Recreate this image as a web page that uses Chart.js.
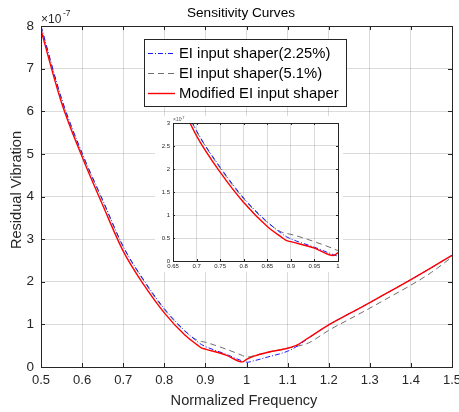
<!DOCTYPE html>
<html>
<head>
<meta charset="utf-8">
<script src="https://cdn.jsdelivr.net/npm/chart.js@4/dist/chart.umd.min.js"></script>
<style>
  html, body { margin: 0; padding: 0; background: #fff; }
  #wrap { position: relative; width: 459px; height: 412px; }
  #main { position: absolute; left: 0; top: 0; }
  #insetBox { position: absolute; left: 155px; top: 116px; width: 188px; height: 156px; background: #fff; }
</style>
</head>
<body>
<div id="wrap">
  <canvas id="main" width="459" height="412"></canvas>
  <div id="insetBox"><canvas id="inset" width="188" height="156"></canvas></div>
</div>
<script>
// ---- data (values in units of 1e-7) ----
const frequency = [0.5, 0.55, 0.6, 0.65, 0.7, 0.75, 0.8, 0.85, 0.88, 0.89, 0.9, 0.95, 0.99, 1.0, 1.02, 1.05, 1.1, 1.12, 1.15, 1.2, 1.25, 1.3, 1.35, 1.4, 1.45, 1.5];
const eiShaper225 = [8.0, 6.3, 5.02, 3.92, 2.83, 2.04, 1.37, 0.85, 0.6, 0.53, 0.48, 0.3, 0.14, 0.11, 0.15, 0.23, 0.37, 0.47, 0.67, 0.99, 1.25, 1.51, 1.78, 2.05, 2.33, 2.62];
const eiShaper51  = [8.0, 6.28, 5.0, 3.9, 2.82, 2.02, 1.35, 0.84, 0.63, 0.6, 0.58, 0.42, 0.27, 0.23, 0.27, 0.34, 0.44, 0.48, 0.56, 0.86, 1.12, 1.38, 1.65, 1.92, 2.22, 2.58];
const modifiedEI  = [7.9, 6.2, 4.93, 3.8, 2.72, 1.93, 1.27, 0.75, 0.52, 0.45, 0.42, 0.28, 0.12, 0.18, 0.26, 0.34, 0.44, 0.5, 0.68, 0.99, 1.25, 1.51, 1.78, 2.05, 2.33, 2.62];
const seriesLabels = ['EI input shaper(2.25%)', 'EI input shaper(5.1%)', 'Modified EI input shaper'];

const mainXTicks = [0.5, 0.6, 0.7, 0.8, 0.9, 1.0, 1.1, 1.2, 1.3, 1.4, 1.5];
const mainYTicks = [0, 1, 2, 3, 4, 5, 6, 7, 8];
const insetXTicks = [0.65, 0.7, 0.75, 0.8, 0.85, 0.9, 0.95, 1.0];
const insetYTicks = [0, 0.5, 1, 1.5, 2, 2.5, 3];

const FONT = "'Liberation Sans', Arial, Helvetica, sans-serif";
const AX = '#262626';
const GRID = 'rgba(0,0,0,0.14)';
const fmt = v => String(+v.toFixed(2));
const pts = arr => frequency.map((f, i) => ({ x: f, y: arr[i] }));

function makeDatasets() {
  return [
    { label: seriesLabels[0], data: pts(eiShaper225), borderColor: '#1a1aff', borderWidth: 1, borderDash: [5, 2, 1, 2], order: 1 },
    { label: seriesLabels[1], data: pts(eiShaper51), borderColor: '#6e6e6e', borderWidth: 1, borderDash: [6, 4], order: 2 },
    { label: seriesLabels[2], data: pts(modifiedEI), borderColor: '#ff0000', borderWidth: 1.4, order: 0 }
  ].map(d => Object.assign(d, { pointRadius: 0, fill: false, cubicInterpolationMode: 'monotone' }));
}

// inward ticks + full box
function boxTicks(len, lw) {
  return {
    id: 'boxTicks',
    afterDatasetsDraw(chart) {
      const { ctx, chartArea: a, scales: { x, y } } = chart;
      ctx.save();
      ctx.strokeStyle = AX; ctx.lineWidth = lw;
      ctx.beginPath();
      x.ticks.forEach(t => {
        const px = Math.round(x.getPixelForValue(t.value)) + 0.5;
        ctx.moveTo(px, a.bottom); ctx.lineTo(px, a.bottom - len);
        ctx.moveTo(px, a.top); ctx.lineTo(px, a.top + len);
      });
      y.ticks.forEach(t => {
        const py = Math.round(y.getPixelForValue(t.value)) + 0.5;
        ctx.moveTo(a.left, py); ctx.lineTo(a.left + len, py);
        ctx.moveTo(a.right, py); ctx.lineTo(a.right - len, py);
      });
      ctx.stroke();
      ctx.strokeRect(Math.round(a.left) + 0.5, Math.round(a.top) + 0.5, Math.round(a.right - a.left), Math.round(a.bottom - a.top));
      ctx.restore();
    }
  };
}

function scaleOpts(ticksArr, min, max, fontSize, pad, fitFn) {
  return {
    type: 'linear', min, max,
    afterBuildTicks: s => { s.ticks = ticksArr.map(v => ({ value: v })); },
    afterFit: s => { fitFn(s); s.paddingLeft = 0; s.paddingRight = 0; s.paddingTop = 0; s.paddingBottom = 0; },
    grid: { color: GRID, lineWidth: 1, drawTicks: false },
    border: { display: false },
    ticks: { callback: v => fmt(v), color: AX, padding: pad, font: { family: FONT, size: fontSize }, maxRotation: 0, autoSkip: false }
  };
}

// ---- main chart ----
const mainText = {
  id: 'mainText',
  afterDraw(chart) {
    const { ctx } = chart;
    ctx.save();
    ctx.fillStyle = '#000';
    ctx.textAlign = 'center'; ctx.textBaseline = 'middle';
    ctx.font = `13.6px ${FONT}`;
    ctx.fillText('Sensitivity Curves', 241, 13);
    ctx.fillStyle = AX;
    ctx.font = `14.6px ${FONT}`;
    ctx.fillText('Normalized Frequency', 244, 401);
    ctx.save();
    ctx.translate(17, 190); ctx.rotate(-Math.PI / 2);
    ctx.fillText('Residual Vibration', 0, 0);
    ctx.restore();
    // exponent label
    ctx.textAlign = 'left'; ctx.textBaseline = 'alphabetic';
    ctx.font = `12px ${FONT}`;
    ctx.fillText('\u00d710', 41, 23);
    ctx.font = `8.5px ${FONT}`;
    ctx.fillText('-7', 63, 16);
    // legend
    const bx = 144.5, by = 39.5, bw = 202, bh = 67;
    ctx.fillStyle = '#fff'; ctx.fillRect(bx, by, bw, bh);
    ctx.strokeStyle = AX; ctx.lineWidth = 1; ctx.strokeRect(bx, by, bw, bh);
    const rows = [53.5, 73.5, 93.5];
    chart.data.datasets.forEach((d, i) => {
      ctx.strokeStyle = d.borderColor; ctx.lineWidth = d.borderWidth;
      ctx.setLineDash(d.borderDash || []);
      ctx.beginPath(); ctx.moveTo(148, rows[i]); ctx.lineTo(175, rows[i]); ctx.stroke();
      ctx.setLineDash([]);
      ctx.fillStyle = '#000'; ctx.font = `14.8px ${FONT}`; ctx.textBaseline = 'middle';
      ctx.fillText(d.label, 179, rows[i] + 0.5);
    });
    ctx.restore();
  }
};

new Chart(document.getElementById('main'), {
  type: 'line',
  data: { datasets: makeDatasets() },
  options: {
    responsive: false, animation: false, devicePixelRatio: 1,
    layout: { padding: { left: 0, top: 26, right: 7, bottom: 0 } },
    plugins: { legend: { display: false }, tooltip: { enabled: false }, title: { display: false } },
    scales: {
      x: scaleOpts(mainXTicks, 0.5, 1.5, 13, 6, s => { s.height = 45; }),
      y: scaleOpts(mainYTicks, 0, 8, 13.5, 7, s => { s.width = 41; })
    }
  },
  plugins: [boxTicks(4, 1), mainText]
});

// ---- inset chart ----
const insetText = {
  id: 'insetText',
  afterDraw(chart) {
    const { ctx } = chart;
    ctx.save();
    ctx.fillStyle = '#555';
    ctx.font = `5px ${FONT}`;
    ctx.fillText('\u00d710', 18, 5);
    ctx.font = `4px ${FONT}`;
    ctx.fillText('-7', 26, 3);
    ctx.restore();
  }
};

new Chart(document.getElementById('inset'), {
  type: 'line',
  data: { datasets: makeDatasets() },
  options: {
    responsive: false, animation: false, devicePixelRatio: 1,
    layout: { padding: { left: 0, top: 7, right: 5, bottom: 0 } },
    plugins: { legend: { display: false }, tooltip: { enabled: false } },
    scales: {
      x: scaleOpts(insetXTicks, 0.65, 1.0, 6, 2, s => { s.height = 11; }),
      y: scaleOpts(insetYTicks, 0, 3, 6, 3, s => { s.width = 18; })
    }
  },
  plugins: [boxTicks(2, 1), insetText]
});
</script>
</body>
</html>
